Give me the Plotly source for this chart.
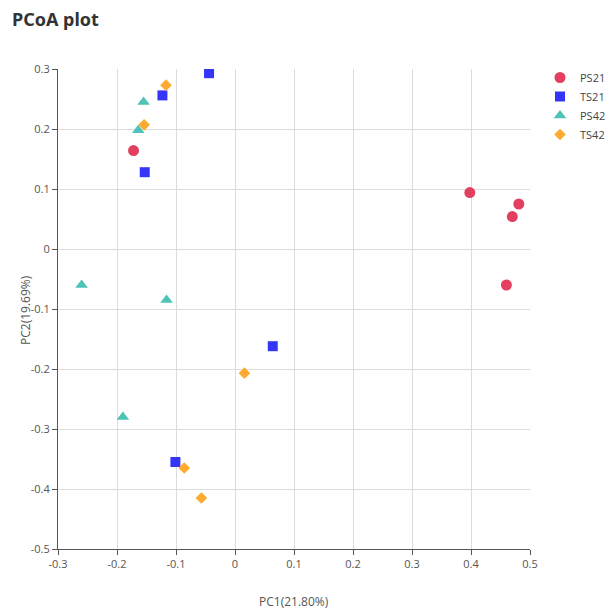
import plotly.graph_objects as go

groups = ["PS21", "TS21", "PS42", "TS42"]
ps21_x = [-0.172, 0.398, 0.481, 0.470, 0.460]
ps21_y = [0.164, 0.094, 0.075, 0.054, -0.060]
ts21_x = [-0.044, -0.123, -0.153, 0.064, -0.101]
ts21_y = [0.293, 0.256, 0.128, -0.162, -0.355]
ps42_x = [-0.155, -0.164, -0.260, -0.116, -0.190]
ps42_y = [0.245, 0.198, -0.060, -0.085, -0.280]
ts42_x = [-0.117, -0.154, 0.016, -0.086, -0.057]
ts42_y = [0.273, 0.207, -0.207, -0.365, -0.415]

series = [
    ("PS21", ps21_x, ps21_y, "circle", "#e3405f", 11),
    ("TS21", ts21_x, ts21_y, "square", "#3535f7", 10),
    ("PS42", ps42_x, ps42_y, "triangle-up", "#4ec3b8", 11),
    ("TS42", ts42_x, ts42_y, "diamond", "#fdab30", 9),
]

fig = go.Figure()
for name, xs, ys, sym, col, sz in series:
    fig.add_trace(go.Scatter(
        x=xs, y=ys, mode="markers", name=name,
        marker=dict(symbol=sym, color=col, size=sz, line=dict(width=0)),
    ))

axis_common = dict(
    showgrid=True, gridcolor="#dcdcdc", gridwidth=1.3,
    zeroline=False, showline=True, linecolor="#555", linewidth=1,
    ticks="outside", ticklen=5, tickcolor="#555",
    tickfont=dict(family="Open Sans, sans-serif", size=11, color="#555"),
)

fig.update_layout(
    width=609, height=609,
    margin=dict(l=58, r=79, t=69, b=60, autoexpand=False),
    paper_bgcolor="white", plot_bgcolor="white",
    title=dict(text="<b>PCoA plot</b>", x=12/609, xref="container", xanchor="left",
               y=1-20/609, yref="container", yanchor="middle",
               font=dict(family="Noto Sans, sans-serif", size=18, color="#333")),
    xaxis=dict(range=[-0.3, 0.5], tickvals=[-0.3, -0.2, -0.1, 0, 0.1, 0.2, 0.3, 0.4, 0.5],
               ticktext=["-0.3", "-0.2", "-0.1", "0", "0.1", "0.2", "0.3", "0.4", "0.5"],
               **axis_common),
    yaxis=dict(range=[-0.5, 0.3], tickvals=[-0.5, -0.4, -0.3, -0.2, -0.1, 0, 0.1, 0.2, 0.3],
               ticktext=["-0.5", "-0.4", "-0.3", "-0.2", "-0.1", "0", "0.1", "0.2", "0.3"],
               **axis_common),
    legend=dict(x=540/609, xref="container", xanchor="left", y=1 - 63/609, yref="container",
                yanchor="top",
                font=dict(family="Open Sans, sans-serif", size=11, color="#444"),
                tracegroupgap=0, itemsizing="trace", bgcolor="rgba(0,0,0,0)"),
    showlegend=True,
)

fig.add_annotation(text="PC1(21.80%)", xref="paper", yref="paper", x=0.5, y=(549-601)/480,
                   xanchor="center", yanchor="middle", showarrow=False,
                   font=dict(family="Open Sans, sans-serif", size=12, color="#555"))
fig.add_annotation(text="PC2(19.69%)", xref="paper", yref="paper", x=(25-58)/472, y=(549-310)/480,
                   xanchor="center", yanchor="middle", showarrow=False, textangle=-90,
                   font=dict(family="Open Sans, sans-serif", size=12, color="#555"))

fig.write_html("out.html")
